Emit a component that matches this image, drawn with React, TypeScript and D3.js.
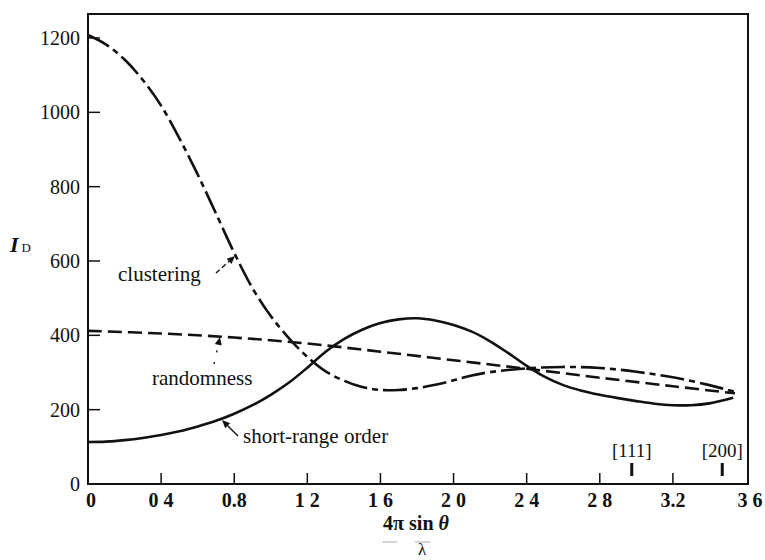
import { useEffect, useRef } from "react";
import * as d3 from "d3";

// x = 4π sinθ / λ
const clusterX = [0, 0.1, 0.2, 0.3, 0.4, 0.5, 0.6, 0.7, 0.8, 0.9, 1.0, 1.1, 1.2, 1.3, 1.4, 1.5, 1.6, 1.7, 1.8, 1.9, 2.0, 2.1, 2.2, 2.4, 2.6, 2.8, 3.0, 3.2, 3.4, 3.54];
const clusterY = [1208, 1182, 1142, 1087, 1018, 930, 833, 728, 622, 527, 452, 392, 342, 303, 278, 261, 253, 253, 258, 267, 279, 292, 301, 311, 315, 312, 302, 287, 266, 248];

const randomX = [0, 0.4, 0.8, 1.2, 1.6, 2.0, 2.4, 2.8, 3.2, 3.54];
const randomY = [412, 405, 394, 378, 356, 333, 310, 286, 263, 244];

const shortX = [0, 0.1, 0.2, 0.3, 0.4, 0.5, 0.6, 0.7, 0.8, 0.9, 1.0, 1.1, 1.2, 1.3, 1.4, 1.5, 1.6, 1.7, 1.8, 1.9, 2.0, 2.1, 2.2, 2.3, 2.4, 2.5, 2.6, 2.7, 2.8, 2.9, 3.0, 3.1, 3.2, 3.3, 3.4, 3.53];
const shortY = [113, 114, 118, 124, 132, 142, 155, 170, 189, 212, 240, 273, 313, 356, 390, 415, 433, 443, 446, 440, 428, 410, 384, 352, 318, 288, 266, 251, 240, 231, 223, 216, 212, 212, 217, 232];

const xTicks = [0, 0.4, 0.8, 1.2, 1.6, 2.0, 2.4, 2.8, 3.2, 3.6];
const xTickLabels = ["0", "0 4", "0.8", "1 2", "1 6", "2 0", "2 4", "2 8", "3.2", "3 6"];
const yTicks = [0, 200, 400, 600, 800, 1000, 1200];

const millerX = [2.975, 3.47];
const millerLabels = ["[111]", "[200]"];

export default function App() {
  const svgRef = useRef<SVGSVGElement>(null);

  useEffect(() => {
    if (!svgRef.current) return;
    const svg = d3.select(svgRef.current);
    svg.selectAll("*").remove();

    const width = 765;
    const height = 560;
    const left = 88, right = 748, top = 14, bottom = 484;

    svg.attr("width", width).attr("height", height)
      .style("font-family", "'Liberation Serif', 'DejaVu Serif', serif");

    const x = d3.scaleLinear().domain([0, 3.6]).range([left, 746]);
    const y = d3.scaleLinear().domain([0, 1200]).range([bottom, 38]);

    const ink = "#111";

    // frame
    svg.append("rect")
      .attr("x", left).attr("y", top)
      .attr("width", right - left).attr("height", bottom - top)
      .attr("fill", "none").attr("stroke", ink).attr("stroke-width", 2);

    // y ticks + labels
    svg.selectAll(".ytick").data(yTicks.filter(d => d > 0)).enter().append("line")
      .attr("x1", left).attr("x2", left + 12)
      .attr("y1", d => y(d)).attr("y2", d => y(d))
      .attr("stroke", ink).attr("stroke-width", 1.5);
    svg.selectAll(".ylab").data(yTicks).enter().append("text")
      .attr("x", 80).attr("y", d => y(d) + 7)
      .attr("text-anchor", "end")
      .style("font-size", "20px").style("fill", ink)
      .text(d => String(d));

    // x ticks + labels
    svg.selectAll(".xtick").data(xTicks.slice(1, -1)).enter().append("line")
      .attr("x1", d => x(d)).attr("x2", d => x(d))
      .attr("y1", bottom).attr("y2", bottom - 11)
      .attr("stroke", ink).attr("stroke-width", 1.5);
    svg.selectAll(".xlab").data(xTicks).enter().append("text")
      .attr("x", (d, i) => x(d) + (i === 0 ? 3 : i === xTicks.length - 1 ? 4 : 0))
      .attr("y", 507)
      .attr("text-anchor", "middle")
      .style("font-size", "20px").style("font-weight", "bold").style("fill", ink)
      .text((d, i) => xTickLabels[i]);

    // miller index markers
    svg.selectAll(".mtick").data(millerX).enter().append("line")
      .attr("x1", d => x(d)).attr("x2", d => x(d))
      .attr("y1", 463).attr("y2", 476)
      .attr("stroke", ink).attr("stroke-width", 3);
    svg.selectAll(".mlab").data(millerX).enter().append("text")
      .attr("x", d => x(d)).attr("y", 457)
      .attr("text-anchor", "middle")
      .style("font-size", "19px").style("fill", ink)
      .text((d, i) => millerLabels[i]);

    // curves
    const line = d3.line<[number, number]>()
      .x(d => x(d[0])).y(d => y(d[1]))
      .curve(d3.curveCatmullRom.alpha(0.5));

    const series = [
      { xs: clusterX, ys: clusterY, dash: "24,5,6,5" },
      { xs: randomX, ys: randomY, dash: "14,6" },
      { xs: shortX, ys: shortY, dash: null },
    ];
    series.forEach(s => {
      const pts = s.xs.map((v, i) => [v, s.ys[i]] as [number, number]);
      svg.append("path")
        .attr("d", line(pts) as string)
        .attr("fill", "none")
        .attr("stroke", ink)
        .attr("stroke-width", 2.6)
        .attr("stroke-dasharray", s.dash);
    });

    // annotations
    const arrow = (x1: number, y1: number, x2: number, y2: number, dash: string | null) => {
      const ang = Math.atan2(y2 - y1, x2 - x1);
      const len = 8, w = 3.5;
      const bx = x2 - len * Math.cos(ang), by = y2 - len * Math.sin(ang);
      svg.append("line")
        .attr("x1", x1).attr("y1", y1).attr("x2", bx).attr("y2", by)
        .attr("stroke", ink).attr("stroke-width", 1.4)
        .attr("stroke-dasharray", dash);
      svg.append("path")
        .attr("d", `M${x2},${y2} L${bx - w * Math.sin(ang)},${by + w * Math.cos(ang)} L${bx + w * Math.sin(ang)},${by - w * Math.cos(ang)} Z`)
        .attr("fill", ink);
    };

    svg.append("text").attr("x", 118).attr("y", 281)
      .style("font-size", "21px").style("fill", ink).text("clustering");
    arrow(216, 273, 235, 256, "5,3");

    svg.append("text").attr("x", 152).attr("y", 385)
      .style("font-size", "21px").style("fill", ink).text("randomness");
    arrow(214, 364, 220, 337, "2,10");

    svg.append("text").attr("x", 243).attr("y", 443)
      .style("font-size", "21px").style("fill", ink).text("short-range order");
    arrow(238, 436, 222, 420, null);

    // y axis title
    const yt = svg.append("text").attr("x", 10).attr("y", 252)
      .style("fill", ink);
    yt.append("tspan").style("font-size", "22px").style("font-style", "italic").style("font-weight", "bold").text("I");
    yt.append("tspan").style("font-size", "13px").attr("dx", 3).text("D");

    // x axis title
    const xt = svg.append("text").attr("x", 416).attr("y", 530)
      .attr("text-anchor", "middle")
      .style("font-size", "20px").style("font-weight", "bold").style("fill", ink);
    xt.append("tspan").text("4π sin ");
    xt.append("tspan").style("font-style", "italic").text("θ");
    svg.append("line")
      .attr("x1", 382).attr("x2", 440).attr("y1", 542).attr("y2", 542)
      .attr("stroke", "#aaa").attr("stroke-width", 1)
      .attr("stroke-dasharray", "15,18");
    svg.append("text").attr("x", 422).attr("y", 555)
      .attr("text-anchor", "middle")
      .style("font-size", "17px").style("fill", ink).text("λ");
  }, []);

  return (
    <svg ref={svgRef} style={{ position: "absolute", left: 0, top: 0, background: "#fff" }}></svg>
  );
}
